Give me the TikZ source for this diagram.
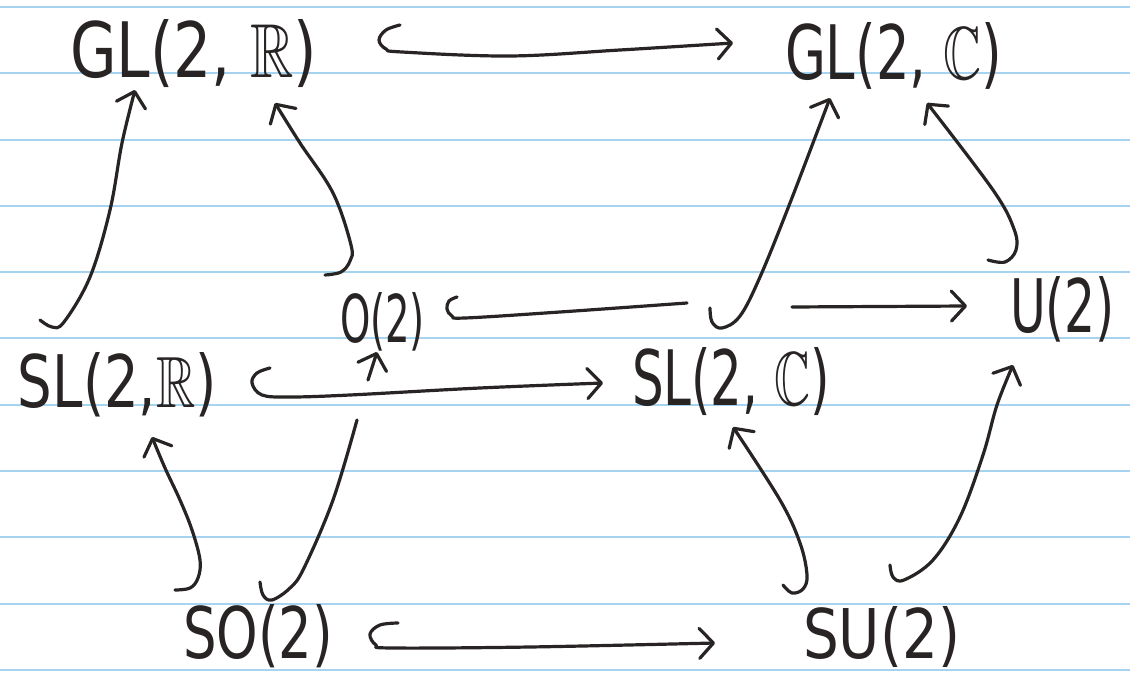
\documentclass[tikz,border=0pt]{standalone}
\usepackage{fontspec}
\usepackage{amssymb}
\usepackage{graphicx}
\setmainfont{DejaVu Sans}
\usetikzlibrary{arrows.meta}
\definecolor{ink}{RGB}{40,36,36}
\definecolor{ruleblue}{RGB}{166,211,240}
\newcommand\hw[3]{\resizebox{#1pt}{#2pt}{#3}}
\begin{document}
\begin{tikzpicture}[x=1pt,y=-1pt,
  lbl/.style={anchor=base west, inner sep=0pt, outer sep=0pt, text=ink},
  wire/.style={draw=ink, line width=3.2pt, line cap=round, line join=round},
  arr/.style={wire, -{Straight Barb[length=14pt,width=30pt,round]}},
  sm/.style={smooth, tension=0.6}
]
\useasboundingbox (0,0) rectangle (1130,676);
\fill[white] (0,0) rectangle (1130,676);
\foreach \k in {0,...,10} {
  \draw[ruleblue, line width=2pt] (0,7+66.3*\k) -- (1130,7+66.3*\k);
}

% nodes
\node[lbl] (glr) at (70,78)   {\hw{247}{58}{GL(2, $\mathbb{R}$)}};
\node[lbl] (glc) at (785,80)  {\hw{217}{57}{GL(2, $\mathbb{C}$)}};
\node[lbl] (o2)  at (340,342) {\hw{85}{50}{O(2)}};
\node[lbl] (u2)  at (1010,333){\hw{105}{56}{U(2)}};
\node[lbl] (slr) at (18,407)  {\hw{199}{55}{SL(2,$\mathbb{R}$)}};
\node[lbl] (slc) at (632,405) {\hw{198}{58}{SL(2, $\mathbb{C}$)}};
\node[lbl] (so2) at (183,658) {\hw{150}{54}{SO(2)}};
\node[lbl] (su2) at (803,658) {\hw{157}{52}{SU(2)}};

% free ends where arrows are broken by crossings
\coordinate (obreakL) at (687,303);
\coordinate (obreakR) at (792,307);
\coordinate (vbreakL) at (357,420);
\coordinate (vbreakU) at (368,380);

% GL(2,R) -> GL(2,C)
\draw[arr] plot[sm] coordinates {([shift={(330,-53)}]glr.base west) (386,30) (379,40) (386,49) (402,52) (510,56) (620,50) ([shift={(-52,-37)}]glc.base west)};
% O(2) -> U(2)
\draw[wire] plot[sm] coordinates {([shift={(117,-45)}]o2.base west) (449,301) (447,309) (452,316) (465,318) (560,312) (obreakL)};
\draw[arr] (obreakR) -- ([shift={(-43,-27)}]u2.base west);
% SL(2,R) -> SL(2,C)
\draw[arr] plot[sm] coordinates {([shift={(252,-39)}]slr.base west) (257,373) (252,383) (262,395) (290,397) (350,395) (480,388) ([shift={(-29,-22)}]slc.base west)};
% SO(2) -> O(2)
\draw[wire] plot[sm] coordinates {([shift={(77,-76)}]so2.base west) (263,595) (272,600) (290,588) (304,568) (333,500) (vbreakL)};
\draw[arr] (vbreakU) -- ([shift={(37,10)}]o2.base west);
% SL(2,R) -> GL(2,R)
\draw[arr] plot[sm] coordinates {([shift={(22,-87)}]slr.base west) (52,327) (64,322) (90,277) (110,210) (122,143) ([shift={(65,12)}]glr.base west)};
% O(2) -> GL(2,R)
\draw[arr] plot[sm] coordinates {([shift={(-15,-67)}]o2.base west) (341,272) (350,261) (351,245) (333,193) (300,143) ([shift={(205,25)}]glr.base west)};
% SL(2,C) -> GL(2,C)
\draw[arr] plot[sm] coordinates {([shift={(78,-97)}]slc.base west) (712,322) (722,328) (740,316) (760,277) (790,203) ([shift={(45,18)}]glc.base west)};
% U(2) -> GL(2,C)
\draw[arr] plot[sm] coordinates {([shift={(-22,-73)}]u2.base west) (1005,262) (1016,250) (1014,229) (993,190) ([shift={(-83,-230)}]u2.base west)};
% SO(2) -> SU(2)
\draw[arr] plot[sm] coordinates {([shift={(215,-35)}]so2.base west) (380,625) (370,634) (376,645) (392,648) (530,647) ([shift={(-88,-15)}]su2.base west)};
% SU(2) -> SL(2,C)
\draw[arr] plot[sm] coordinates {([shift={(-20,-73)}]su2.base west) (792,593) (803,589) (807,575) (800,543) (780,500) ([shift={(101,22)}]slc.base west)};
% SU(2) -> U(2)
\draw[arr] plot[sm] coordinates {([shift={(87,-93)}]su2.base west) (893,577) (904,580) (933,560) (960,517) (983,455) (997,405) ([shift={(3,32)}]u2.base west)};
% SO(2) -> SL(2,R)
\draw[arr] plot[sm] coordinates {([shift={(-8,-68)}]so2.base west) (190,588) (198,578) (200,560) (192,530) (180,500) (165,468) ([shift={(134,30)}]slr.base west)};
\end{tikzpicture}
\end{document}
